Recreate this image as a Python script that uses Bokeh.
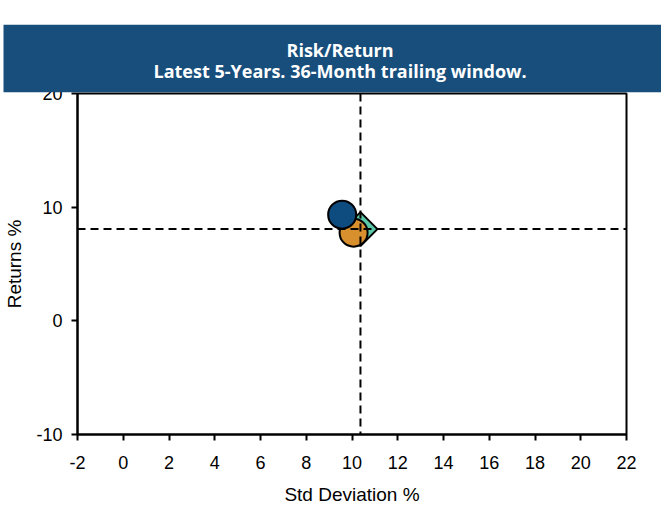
from bokeh.plotting import figure
from bokeh.models import Span, FixedTicker, Range1d, CustomJSTickFormatter, Title
from bokeh.embed import file_html
from bokeh.resources import INLINE

# ---- data ----
title_lines = ["Risk/Return", "Latest 5-Years. 36-Month trailing window."]
x_ticks = [-2, 0, 2, 4, 6, 8, 10, 12, 14, 16, 18, 20, 22]
y_ticks = [-10, 0, 10, 20]
x_label = "Std Deviation %"
y_label = "Returns %"

bench_std = [10.37]
bench_ret = [8.07]
fund_b_std = [10.07]
fund_b_ret = [7.76]
fund_a_std = [9.57]
fund_a_ret = [9.34]

BANNER = "#174E7C"
FONT = "Liberation Sans"

W, H = 661, 507
p = figure(width=W, height=H, x_range=Range1d(-2, 22), y_range=Range1d(-10, 20),
           output_backend="svg", toolbar_location=None,
           min_border_left=77, min_border_right=35, min_border_top=93, min_border_bottom=72)
p.grid.visible = False
p.outline_line_color = "black"
p.outline_line_width = 2
p.background_fill_color = "white"
p.border_fill_color = "white"

xaxis = p.below[0]
yaxis = p.left[0]

# invisible spacer between banner and plot frame
p.add_layout(Title(text=" ", text_font_size="1px", text_alpha=0.0, standoff=14), "above")

# banner (title with full-width background)
p.title.text = "\n".join(title_lines)
p.title.align = "left"
p.title.offset = -74
p.title.text_align = "center"
p.title.vertical_align = "middle"
p.title.text_font = "Open Sans"
p.title.text_font_style = "bold"
p.title.text_font_size = "18px"
p.title.text_line_height = 0.9
p.title.text_color = "white"
p.title.standoff = 0
p.title.background_fill_color = BANNER
p.title.background_fill_alpha = 1.0
p.title.padding = (150, 400, 13, 9)

xaxis.ticker = FixedTicker(ticks=x_ticks)
yaxis.ticker = FixedTicker(ticks=y_ticks)
xaxis.axis_label = x_label
yaxis.axis_label = y_label
for ax in (xaxis, yaxis):
    ax.formatter = CustomJSTickFormatter(code="return String(tick);")
    ax.axis_line_color = "black"
    ax.axis_line_width = 2
    ax.major_tick_line_color = "black"
    ax.major_tick_line_width = 2
    ax.major_tick_out = 6
    ax.major_tick_in = 0
    ax.minor_tick_line_color = None
    ax.major_label_text_font = FONT
    ax.major_label_text_font_size = "18px"
    ax.major_label_text_color = "black"
    ax.axis_label_text_font = FONT
    ax.axis_label_text_font_size = "19px"
    ax.axis_label_text_font_style = "normal"
    ax.axis_label_text_color = "black"
xaxis.major_label_standoff = 15
xaxis.axis_label_standoff = 12
yaxis.major_label_standoff = 9
yaxis.axis_label_standoff = 8

p.add_layout(Span(location=bench_std[0], dimension="height", line_color="black",
                  line_width=2, line_dash="8 5"))
p.add_layout(Span(location=bench_ret[0], dimension="width", line_color="black",
                  line_width=2, line_dash="8 5"))

p.scatter(x=bench_std, y=bench_ret, marker="square", angle=0.785398, size=24,
          fill_color="#5BC7A9", line_color="black", line_width=2)
p.scatter(x=fund_b_std, y=fund_b_ret, marker="circle", size=28,
          fill_color="#D8902F", line_color="black", line_width=2)
p.scatter(x=fund_a_std, y=fund_a_ret, marker="circle", size=28,
          fill_color="#0E4C80", line_color="black", line_width=2)

open("out.html", "w").write(file_html(p, INLINE))
